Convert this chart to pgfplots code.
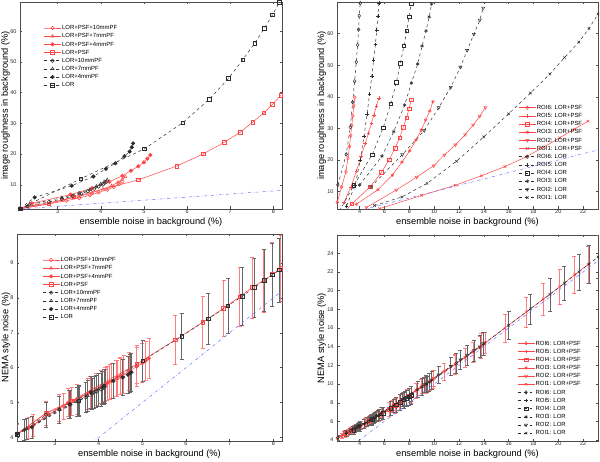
\documentclass[border=0pt]{standalone}
\usepackage{fontspec}
\setmainfont{Liberation Sans}
\usepackage{pgfplots}
\usepackage{pgfplotstable}
\pgfplotsset{compat=1.18}

\definecolor{mred}{RGB}{255,70,70}
\definecolor{mredbar}{RGB}{255,125,125}
\definecolor{mblk}{RGB}{45,45,45}
\definecolor{mblue}{RGB}{110,110,255}

% columns: ensemble noise, image roughness, NEMA noise, NEMA error
\pgfplotstableread{
x r n e
2.13 2.2 4.10 0.30
3.54 12.0 5.05 0.45
5.01 21.7 6.20 0.58
5.90 30.2 6.90 0.66
6.51 37.8 7.40 0.73
6.96 44.6 7.77 0.78
7.29 50.7 8.05 0.82
7.57 56.1 8.30 0.85
7.79 60.9 8.50 0.88
7.98 65.3 8.66 0.90
8.14 69.4 8.80 0.92
}\tLOR
\pgfplotstableread{
x r n e
2.13 2.2 4.10 0.28
2.80 3.8 4.70 0.35
3.38 6.1 5.05 0.40
4.87 11.6 6.10 0.55
5.76 16.1 6.80 0.70
6.38 20.1 7.30 0.75
6.86 23.8 7.70 0.80
7.23 27.1 8.03 0.84
7.52 30.4 8.30 0.87
7.78 33.4 8.50 0.90
7.98 36.2 8.67 0.92
8.17 39.1 8.85 0.95
}\tPSF
\pgfplotstableread{
x r n e
2.13 2.2 4.10 0.28
2.40 4.0 4.28 0.30
3.30 6.8 5.00 0.40
3.80 8.9 5.30 0.45
4.20 11.0 5.56 0.48
4.50 12.9 5.76 0.52
4.70 14.6 5.90 0.54
4.87 16.0 6.03 0.55
5.00 17.3 6.13 0.56
5.08 18.5 6.20 0.57
5.15 19.7 6.27 0.58
}\tPFa
\pgfplotstableread{
x r n e
2.13 2.2 4.10 0.28
2.50 3.4 4.35 0.32
3.10 5.0 4.85 0.38
3.50 6.2 5.10 0.42
3.80 7.4 5.30 0.45
4.05 8.6 5.46 0.47
4.25 9.7 5.60 0.50
4.40 10.8 5.70 0.52
4.50 11.8 5.76 0.53
4.57 12.6 5.82 0.54
}\tPFb
\pgfplotstableread{
x r n e
2.13 2.2 4.10 0.28
2.80 3.8 4.70 0.35
3.20 4.8 4.90 0.38
3.50 5.7 5.10 0.42
3.75 6.6 5.25 0.44
3.95 7.5 5.38 0.46
4.15 8.4 5.52 0.48
4.30 9.3 5.62 0.50
4.42 10.2 5.70 0.51
4.50 11.0 5.76 0.52
}\tPFc
\pgfplotstableread{
x r n e
2.13 2.2 4.10 0.30
2.47 5.9 4.30 0.32
3.33 9.7 4.95 0.40
3.83 12.7 5.30 0.45
4.12 15.2 5.48 0.48
4.34 17.0 5.62 0.50
4.55 19.3 5.72 0.52
4.67 20.8 5.80 0.53
4.72 22.2 5.84 0.54
4.75 23.5 5.87 0.55
}\tLa
\pgfplotstableread{
x r n e
2.13 2.2 4.10 0.30
2.35 3.6 4.25 0.31
3.10 5.8 4.80 0.38
3.50 7.3 5.02 0.42
3.75 8.5 5.20 0.45
3.90 9.5 5.30 0.46
4.00 10.3 5.38 0.47
4.08 11.0 5.43 0.48
4.15 11.6 5.47 0.49
}\tLb
\pgfplotstableread{
x r n e
2.13 2.2 4.10 0.30
2.30 3.0 4.22 0.31
2.80 4.4 4.65 0.35
3.10 5.4 4.80 0.38
3.35 6.3 4.95 0.40
3.55 7.1 5.05 0.42
3.70 7.9 5.15 0.43
3.85 8.7 5.25 0.45
3.95 9.4 5.32 0.46
4.05 10.1 5.38 0.47
4.12 10.8 5.42 0.48
}\tLc
% ROI6 .. ROI1 (ROI4 = tables above)
\pgfplotstableread{
x r n e
2.20 6.6 4.20 0.25
2.55 11.5 4.45 0.28
2.90 16.3 4.70 0.30
3.06 20.6 4.83 0.31
3.19 24.3 4.92 0.33
3.28 27.7 5.00 0.34
3.37 30.9 5.06 0.35
3.45 33.9 5.12 0.36
3.53 37.1 5.18 0.37
3.62 39.8 5.25 0.38
}\tSp
\pgfplotstableread{
x r n e
2.25 12.1 4.25 0.27
2.92 21.8 4.75 0.30
3.25 30.4 5.00 0.32
3.44 38.3 5.15 0.34
3.60 44.9 5.25 0.35
3.73 51.0 5.35 0.37
3.84 56.4 5.43 0.38
3.92 61.3 5.48 0.39
3.97 65.6 5.52 0.40
4.05 69.6 5.57 0.41
}\tSl
\pgfplotstableread{
x r n e
2.74 6.6 4.60 0.30
3.30 11.5 5.00 0.35
3.75 16.5 5.30 0.38
4.13 21.3 5.60 0.42
4.45 25.2 5.85 0.45
4.72 28.6 6.05 0.47
4.95 31.6 6.25 0.50
5.15 34.3 6.40 0.52
5.35 37.0 6.55 0.54
5.55 39.6 6.70 0.56
}\tFp
\pgfplotstableread{
x r n e
2.95 5.5 4.75 0.32
3.65 12.1 5.25 0.37
4.05 20.0 5.55 0.41
4.35 27.5 5.75 0.44
4.60 34.5 5.95 0.46
4.80 40.8 6.10 0.48
4.98 46.5 6.25 0.50
5.13 51.7 6.37 0.52
5.27 56.6 6.48 0.53
5.38 61.2 6.56 0.54
5.47 65.5 6.63 0.55
5.55 69.6 6.70 0.56
}\tFl
\pgfplotstableread{
x r n e
3.73 6.0 5.30 0.40
5.48 10.6 6.65 0.55
6.63 15.2 7.60 0.65
7.41 19.3 8.30 0.72
8.03 22.9 8.82 0.78
8.54 26.3 9.27 0.83
8.97 29.5 9.65 0.87
9.32 32.6 9.95 0.90
9.65 35.5 10.25 0.93
9.91 38.5 10.50 0.96
}\tTp
\pgfplotstableread{
x r n e
4.00 12.1 5.45 0.45
5.80 21.2 6.95 0.60
6.75 29.0 7.70 0.68
7.63 37.4 8.50 0.75
8.17 44.4 8.95 0.80
8.68 50.4 9.40 0.85
9.03 56.1 9.70 0.88
9.35 60.9 10.00 0.90
9.60 65.3 10.20 0.93
9.80 69.3 10.40 0.95
}\tTl
\pgfplotstableread{
x r n e
4.55 5.0 5.95 0.45
6.95 10.5 7.85 0.62
8.60 14.6 9.35 0.75
9.97 18.2 10.60 0.85
10.83 21.6 11.35 0.92
11.72 24.8 12.15 0.98
12.50 28.0 12.85 1.03
13.14 31.1 13.45 1.08
13.68 33.9 13.95 1.12
14.13 36.6 14.45 1.15
}\tWp
\pgfplotstableread{
x r n e
4.91 11.5 6.20 0.50
7.44 21.7 8.35 0.68
9.20 29.3 9.95 0.82
10.37 36.6 11.00 0.92
11.34 43.0 11.90 1.00
12.12 49.4 12.60 1.06
12.66 54.7 13.10 1.10
13.20 59.8 13.60 1.14
13.68 64.3 14.00 1.18
13.95 68.1 14.30 1.20
}\tWl
\pgfplotstableread{
x r n e
5.60 4.6 6.50 0.50
9.00 8.8 9.80 0.80
11.70 12.0 12.10 1.05
13.80 15.0 14.10 1.30
15.70 17.9 16.00 1.50
17.40 21.0 17.70 1.65
18.80 24.0 19.10 1.75
20.10 27.0 20.40 1.85
21.30 29.8 21.70 1.95
22.40 32.3 22.80 2.00
}\tOp
\pgfplotstableread{
x r n e
5.20 5.6 6.45 0.50
7.40 8.3 8.30 0.70
9.43 12.6 10.00 0.85
11.80 19.6 12.20 1.05
14.00 27.3 14.30 1.25
16.00 34.6 16.30 1.45
17.76 41.2 18.05 1.60
19.32 47.2 19.60 1.75
20.50 52.4 20.80 1.85
21.66 57.3 22.00 1.95
22.47 61.6 22.85 2.05
23.20 66.2 23.60 2.30
}\tOl

\pgfplotsset{
  panel/.style={scale only axis, tick align=inside, major tick length=2.5pt,
    axis line style={black!70, line width=0.4pt},
    tick style={black!70, line width=0.4pt},
    ticklabel style={font=\fontsize{5.5}{6}\selectfont, text=black!85},
    xticklabel style={inner sep=0.8pt},
    label style={font=\fontsize{9.3}{11}\selectfont},
    /pgf/number format/assume math mode=true,
    xlabel={ensemble noise in background (\%)},
    xlabel style={at={(axis description cs:0.5,0)}, anchor=north, inner sep=0pt, yshift=-8.5bp},
    legend cell align=left,
    legend style={draw=none, fill=none, anchor=north west, inner sep=0pt, row sep=0pt,
      font=\fontsize{6}{7}\selectfont,
      nodes={inner sep=0.8pt, text height=5pt, text depth=1.6pt}}},
  psf/.style={mred, solid, line width=0.5pt, mark size=1.8pt, mark options={solid}},
  lor/.style={mblk, dashed, line width=0.5pt, mark size=1.8pt, mark options={solid}},
  ident/.style={mblue, dash dot, line width=0.5pt, forget plot},
  ebr/.style={error bars/.cd, y dir=both, y explicit,
    error bar style={mredbar, solid, line width=0.6pt},
    error mark options={rotate=90, mark size=2pt, mredbar, solid}},
  ebk/.style={error bars/.cd, y dir=both, y explicit,
    error bar style={black!60, solid, line width=0.6pt},
    error mark options={rotate=90, mark size=2pt, black!60, solid}},
}

\begin{document}
\begin{tikzpicture}[x=1bp,y=1bp]
\useasboundingbox (0,0) rectangle (600,462);

% top left
\begin{axis}[panel, at={(20bp,253bp)}, anchor=south west, width=262bp, height=207bp,
  xmin=2.13, xmax=8.2, ymin=2.13, ymax=69.5, xtick={3,...,8}, ytick={10,20,...,60},
  ylabel={image roughness in background (\%)},
  ylabel style={at={(axis description cs:-0.038,0.5)}, anchor=south, inner sep=0pt},
  legend style={at={(axis description cs:0.09,0.895)}}]
\addplot[psf, mark=o] table[x=x,y=r] {\tPFc};
\addplot[psf, mark=triangle] table[x=x,y=r] {\tPFb};
\addplot[psf, mark=*] table[x=x,y=r] {\tPFa};
\addplot[psf, mark=square] table[x=x,y=r] {\tPSF};
\addplot[lor, mark=o] table[x=x,y=r] {\tLc};
\addplot[lor, mark=triangle] table[x=x,y=r] {\tLb};
\addplot[lor, mark=*] table[x=x,y=r] {\tLa};
\addplot[lor, mark=square] table[x=x,y=r] {\tLOR};
\addplot[ident] coordinates {(2.13,2.13) (8.2,8.2)};
\legend{LOR+PSF+10mmPF,LOR+PSF+7mmPF,LOR+PSF+4mmPF,LOR+PSF,LOR+10mmPF,LOR+7mmPF,LOR+4mmPF,LOR}
\end{axis}

% top right
\begin{axis}[panel, at={(337bp,253bp)}, anchor=south west, width=261bp, height=207bp,
  xmin=2.18, xmax=23.2, ymin=4.5, ymax=70, xtick={4,6,...,22}, ytick={10,20,...,60},
  ylabel={image roughness in background (\%)},
  ylabel style={at={(axis description cs:-0.041,0.5)}, anchor=south, inner sep=0pt},
  legend style={at={(axis description cs:0.695,0.51)}}]
\addplot[psf, mark=diamond] table[x=x,y=r] {\tSp};
\addplot[psf, mark=+] table[x=x,y=r] {\tFp};
\addplot[psf, mark=square] table[x=x,y=r] {\tPSF};
\addplot[psf, mark=asterisk] table[x=x,y=r] {\tTp};
\addplot[psf, mark=triangle, mark options={solid, rotate=180}] table[x=x,y=r] {\tWp};
\addplot[psf, mark=x] table[x=x,y=r] {\tOp};
\addplot[lor, mark=diamond] table[x=x,y=r] {\tSl};
\addplot[lor, mark=+] table[x=x,y=r] {\tFl};
\addplot[lor, mark=square] table[x=x,y=r] {\tLOR};
\addplot[lor, mark=asterisk] table[x=x,y=r] {\tTl};
\addplot[lor, mark=triangle, mark options={solid, rotate=180}] table[x=x,y=r] {\tWl};
\addplot[lor, mark=x] table[x=x,y=r] {\tOl};
\addplot[ident] coordinates {(2,2) (23.5,23.5)};
\legend{ROI6: LOR+PSF,ROI5: LOR+PSF,ROI4: LOR+PSF,ROI3: LOR+PSF,ROI2: LOR+PSF,ROI1: LOR+PSF,
  ROI6: LOR,ROI5: LOR,ROI4: LOR,ROI3: LOR,ROI2: LOR,ROI1: LOR}
\end{axis}

% bottom left
\begin{axis}[panel, at={(17bp,21bp)}, anchor=south west, width=265bp, height=207bp,
  xmin=2.13, xmax=8.2, ymin=3.9, ymax=9.83, xtick={3,...,8}, ytick={4,...,9},
  ylabel={NEMA style noise (\%)},
  ylabel style={at={(axis description cs:-0.025,0.5)}, anchor=south, inner sep=0pt},
  legend style={at={(axis description cs:0.095,0.895)}}]
\addplot[psf, mark=o, ebr] table[x=x,y=n,y error=e] {\tPFc};
\addplot[psf, mark=triangle, ebr] table[x=x,y=n,y error=e] {\tPFb};
\addplot[psf, mark=*, ebr] table[x=x,y=n,y error=e] {\tPFa};
\addplot[psf, mark=square, ebr] table[x=x,y=n,y error=e] {\tPSF};
\addplot[lor, mark=o, ebk] table[x=x,y=n,y error=e] {\tLc};
\addplot[lor, mark=triangle, ebk] table[x=x,y=n,y error=e] {\tLb};
\addplot[lor, mark=*, ebk] table[x=x,y=n,y error=e] {\tLa};
\addplot[lor, mark=square, ebk] table[x=x,y=n,y error=e] {\tLOR};
\addplot[ident] coordinates {(2.13,2.13) (8.2,8.2)};
\legend{LOR+PSF+10mmPF,LOR+PSF+7mmPF,LOR+PSF+4mmPF,LOR+PSF,LOR+10mmPF,LOR+7mmPF,LOR+4mmPF,LOR}
\end{axis}

% bottom right
\begin{axis}[panel, at={(337bp,21bp)}, anchor=south west, width=261bp, height=206bp,
  xmin=2.18, xmax=23.2, ymin=3.9, ymax=25.96, xtick={4,6,...,22}, ytick={4,6,...,24},
  ylabel={NEMA style noise (\%)},
  ylabel style={at={(axis description cs:-0.041,0.5)}, anchor=south, inner sep=0pt},
  legend style={at={(axis description cs:0.69,0.495)}}]
\addplot[psf, mark=diamond, ebr] table[x=x,y=n,y error=e] {\tSp};
\addplot[psf, mark=+, ebr] table[x=x,y=n,y error=e] {\tFp};
\addplot[psf, mark=square, ebr] table[x=x,y=n,y error=e] {\tPSF};
\addplot[psf, mark=asterisk, ebr] table[x=x,y=n,y error=e] {\tTp};
\addplot[psf, mark=triangle, mark options={solid, rotate=180}, ebr] table[x=x,y=n,y error=e] {\tWp};
\addplot[psf, mark=x, ebr] table[x=x,y=n,y error=e] {\tOp};
\addplot[lor, mark=diamond, ebk] table[x=x,y=n,y error=e] {\tSl};
\addplot[lor, mark=+, ebk] table[x=x,y=n,y error=e] {\tFl};
\addplot[lor, mark=square, ebk] table[x=x,y=n,y error=e] {\tLOR};
\addplot[lor, mark=asterisk, ebk] table[x=x,y=n,y error=e] {\tTl};
\addplot[lor, mark=triangle, mark options={solid, rotate=180}, ebk] table[x=x,y=n,y error=e] {\tWl};
\addplot[lor, mark=x, ebk] table[x=x,y=n,y error=e] {\tOl};
\addplot[ident] coordinates {(2,2) (23.5,23.5)};
\legend{ROI6: LOR+PSF,ROI5: LOR+PSF,ROI4: LOR+PSF,ROI3: LOR+PSF,ROI2: LOR+PSF,ROI1: LOR+PSF,
  ROI6: LOR,ROI5: LOR,ROI4: LOR,ROI3: LOR,ROI2: LOR,ROI1: LOR}
\end{axis}
\end{tikzpicture}
\end{document}
